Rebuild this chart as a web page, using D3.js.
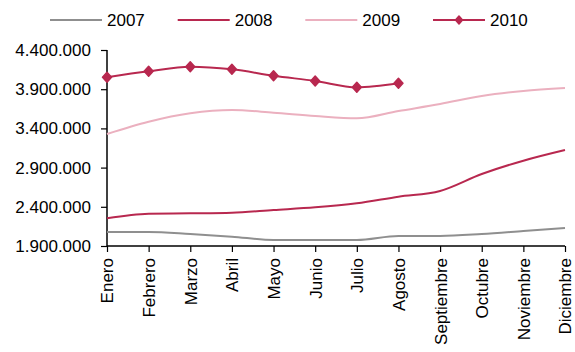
<!DOCTYPE html>
<html>
<head>
<meta charset="utf-8">
<script src="https://cdn.jsdelivr.net/npm/d3@7"></script>
<style>
  body { margin: 0; background: #fff; }
  svg { display: block; font-family: "Liberation Sans", Arial, sans-serif; }
</style>
</head>
<body>
<svg id="chart" width="575" height="352"></svg>
<script>
const months = ["Enero","Febrero","Marzo","Abril","Mayo","Junio","Julio","Agosto","Septiembre","Octubre","Noviembre","Diciembre"];
const years = ["2007","2008","2009","2010"];
const v2007 = [2079000,2079000,2053000,2019000,1977000,1977000,1977000,2028000,2028000,2053000,2091000,2130000];
const v2008 = [2253000,2312000,2317000,2325000,2359000,2393000,2445000,2529000,2602000,2818000,2988000,3124000];
const v2009 = [3329000,3485000,3593000,3635000,3600000,3558000,3529000,3622000,3711000,3813000,3877000,3915000];
const v2010 = [4052000,4128000,4187000,4154000,4072000,4005000,3924000,3975000];
const yTicks = [1900000,2400000,2900000,3400000,3900000,4400000];
const colors = ["#8f8f8f","#b8284f","#ebb0bf","#b8284f"];

const seriesList = [v2007, v2008, v2009, v2010];

const svg = d3.select("#chart");
const x = d3.scalePoint().domain(months).range([107, 565]);
const y = d3.scaleLinear().domain([1900000, 4400000]).range([246, 50]);

const fmt = v => d3.format(",")(v).replace(/,/g, ".");

// Y axis
const yAxis = svg.append("g").attr("transform", "translate(107,0)")
  .call(d3.axisLeft(y).tickValues(yTicks).tickSize(6).tickPadding(10).tickFormat(fmt));
yAxis.select(".domain").attr("d", "M0,50V246").attr("stroke", "#000").attr("stroke-width", 1.5);
yAxis.selectAll(".tick line").attr("stroke", "#000").attr("stroke-width", 1.2);
yAxis.selectAll("text").attr("font-size", 17).attr("fill", "#000")
  .attr("font-family", "'Liberation Sans', Arial, sans-serif");

// X axis
const xAxis = svg.append("g").attr("transform", "translate(0,246)")
  .call(d3.axisBottom(x).tickSize(6).tickSizeOuter(0));
xAxis.select(".domain").attr("d", "M107,0H565").attr("stroke", "#000").attr("stroke-width", 1.5);
xAxis.selectAll(".tick line").attr("stroke", "#000").attr("stroke-width", 1.2);
xAxis.selectAll("text")
  .attr("font-size", 17).attr("fill", "#000")
  .attr("font-family", "'Liberation Sans', Arial, sans-serif")
  .attr("text-anchor", "end")
  .attr("transform", "translate(0,12) rotate(-90)")
  .attr("x", 0).attr("y", 0).attr("dy", "0.35em");

// Lines
const line = d3.line()
  .x((d, i) => x(months[i]))
  .y(d => y(d))
  .curve(d3.curveMonotoneX);

seriesList.forEach((vals, k) => {
  svg.append("path")
    .datum(vals)
    .attr("fill", "none")
    .attr("stroke", colors[k])
    .attr("stroke-width", 2)
    .attr("d", line);
});

// Markers for 2010
const marker = "M0,-5L4.5,0L0,5L-4.5,0Z";
svg.append("g").selectAll("path")
  .data(v2010)
  .join("path")
  .attr("d", marker)
  .attr("transform", (d, i) => `translate(${x(months[i])},${y(d)})`)
  .attr("fill", colors[3])
  .attr("stroke", colors[3])
  .attr("stroke-width", 1.5)
  .attr("stroke-linejoin", "round");

// Legend
const legendX = [50, 177.7, 305.3, 433];
const legend = svg.append("g");
years.forEach((yr, k) => {
  const g = legend.append("g").attr("transform", `translate(${legendX[k]},20)`);
  g.append("line").attr("x1", 0).attr("x2", 52).attr("y1", 0).attr("y2", 0)
    .attr("stroke", colors[k]).attr("stroke-width", 2);
  if (k === 3) {
    g.append("path").attr("d", "M0,-4L3.5,0L0,4L-3.5,0Z").attr("transform", "translate(26,0)")
      .attr("fill", colors[k]).attr("stroke", colors[k]).attr("stroke-width", 1.5).attr("stroke-linejoin", "round");
  }
  g.append("text").attr("x", 57).attr("y", 0).attr("dy", "0.35em")
    .attr("font-size", 17).attr("fill", "#000").text(yr);
});
</script>
</body>
</html>
